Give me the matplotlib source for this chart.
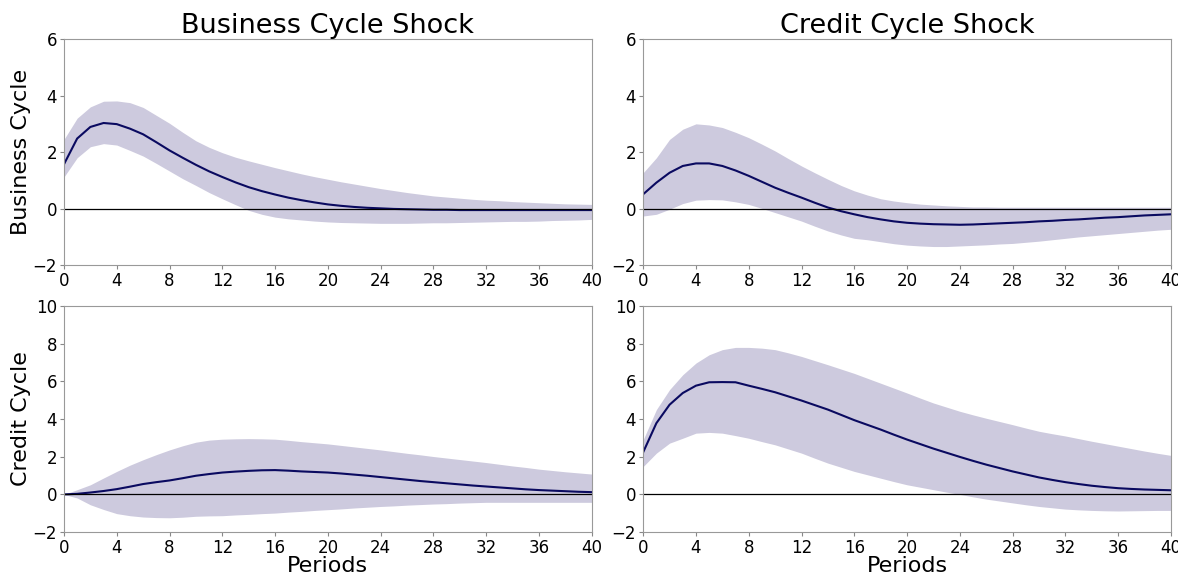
import numpy as np
import matplotlib
matplotlib.use("Agg")
import matplotlib.pyplot as plt

periods = np.arange(41)

# business cycle shock -> business cycle
bc_bc_med = [1.57, 2.48, 2.89, 3.03, 2.99, 2.83, 2.63, 2.35, 2.06, 1.80, 1.55, 1.32, 1.12, 0.93, 0.76,
             0.62, 0.50, 0.39, 0.30, 0.22, 0.15, 0.10, 0.06, 0.03, 0.01, -0.01, -0.02, -0.03, -0.04,
             -0.04, -0.05, -0.05, -0.05, -0.05, -0.05, -0.05, -0.05, -0.05, -0.05, -0.05, -0.05]
bc_bc_hi = [2.45, 3.20, 3.60, 3.80, 3.81, 3.75, 3.58, 3.30, 3.02, 2.70, 2.40, 2.17, 1.98, 1.82, 1.69,
            1.57, 1.45, 1.34, 1.23, 1.13, 1.04, 0.95, 0.87, 0.79, 0.71, 0.64, 0.57, 0.51, 0.45, 0.41,
            0.37, 0.33, 0.30, 0.28, 0.25, 0.23, 0.21, 0.19, 0.17, 0.16, 0.15]
bc_bc_lo = [1.12, 1.80, 2.19, 2.30, 2.25, 2.06, 1.86, 1.60, 1.33, 1.06, 0.82, 0.57, 0.35, 0.14, -0.06,
            -0.20, -0.30, -0.36, -0.40, -0.44, -0.47, -0.49, -0.50, -0.51, -0.52, -0.52, -0.52, -0.51,
            -0.50, -0.50, -0.49, -0.48, -0.47, -0.46, -0.45, -0.45, -0.44, -0.42, -0.41, -0.40, -0.38]

# credit cycle shock -> business cycle
cc_bc_med = [0.51, 0.92, 1.27, 1.51, 1.60, 1.60, 1.51, 1.35, 1.16, 0.95, 0.74, 0.56, 0.39, 0.21, 0.04,
             -0.09, -0.20, -0.30, -0.38, -0.45, -0.50, -0.53, -0.55, -0.56, -0.57, -0.56, -0.54, -0.52,
             -0.50, -0.48, -0.45, -0.43, -0.40, -0.38, -0.35, -0.32, -0.30, -0.27, -0.24, -0.22, -0.20]
cc_bc_hi = [1.27, 1.80, 2.45, 2.81, 3.00, 2.96, 2.87, 2.70, 2.51, 2.28, 2.04, 1.77, 1.51, 1.27, 1.04,
            0.82, 0.63, 0.48, 0.35, 0.27, 0.21, 0.16, 0.13, 0.10, 0.08, 0.06, 0.06, 0.05, 0.05, 0.05,
            0.05, 0.05, 0.05, 0.05, 0.05, 0.05, 0.05, 0.05, 0.05, 0.05, 0.05]
cc_bc_lo = [-0.26, -0.20, -0.02, 0.18, 0.30, 0.32, 0.31, 0.24, 0.15, 0.01, -0.14, -0.29, -0.44, -0.62,
            -0.79, -0.93, -1.05, -1.10, -1.17, -1.24, -1.29, -1.32, -1.34, -1.34, -1.32, -1.30, -1.28,
            -1.25, -1.23, -1.19, -1.15, -1.10, -1.05, -1.00, -0.96, -0.92, -0.88, -0.84, -0.80, -0.76, -0.73]

# business cycle shock -> credit cycle
bc_cc_med = [0.00, 0.03, 0.10, 0.18, 0.28, 0.41, 0.55, 0.65, 0.74, 0.86, 0.99, 1.08, 1.16, 1.21, 1.25,
             1.28, 1.29, 1.26, 1.22, 1.19, 1.16, 1.11, 1.05, 0.99, 0.92, 0.85, 0.78, 0.71, 0.65, 0.59,
             0.53, 0.47, 0.42, 0.37, 0.32, 0.27, 0.23, 0.20, 0.17, 0.14, 0.12]
bc_cc_hi = [0.00, 0.25, 0.51, 0.87, 1.22, 1.55, 1.84, 2.11, 2.36, 2.58, 2.77, 2.88, 2.93, 2.95, 2.96,
            2.95, 2.93, 2.87, 2.80, 2.74, 2.68, 2.60, 2.52, 2.44, 2.36, 2.27, 2.18, 2.10, 2.01, 1.93,
            1.85, 1.77, 1.69, 1.60, 1.51, 1.43, 1.34, 1.27, 1.20, 1.14, 1.08]
bc_cc_lo = [0.00, -0.19, -0.55, -0.80, -1.02, -1.13, -1.20, -1.23, -1.24, -1.21, -1.16, -1.14, -1.13,
            -1.09, -1.06, -1.02, -0.99, -0.94, -0.90, -0.85, -0.81, -0.77, -0.72, -0.68, -0.64, -0.61,
            -0.57, -0.54, -0.51, -0.49, -0.46, -0.44, -0.42, -0.42, -0.42, -0.42, -0.42, -0.42, -0.42,
            -0.42, -0.42]

# credit cycle shock -> credit cycle
cc_cc_med = [2.24, 3.78, 4.76, 5.38, 5.77, 5.95, 5.96, 5.95, 5.77, 5.60, 5.42, 5.20, 4.98, 4.74, 4.50,
             4.22, 3.94, 3.69, 3.44, 3.17, 2.91, 2.67, 2.43, 2.21, 1.99, 1.78, 1.58, 1.40, 1.22, 1.06,
             0.90, 0.77, 0.65, 0.55, 0.46, 0.39, 0.33, 0.29, 0.26, 0.24, 0.22]
cc_cc_hi = [2.90, 4.50, 5.56, 6.35, 6.97, 7.41, 7.68, 7.80, 7.80, 7.76, 7.68, 7.51, 7.32, 7.10, 6.88,
            6.65, 6.42, 6.16, 5.90, 5.64, 5.38, 5.11, 4.85, 4.63, 4.41, 4.22, 4.04, 3.87, 3.70, 3.52,
            3.35, 3.22, 3.10, 2.96, 2.82, 2.69, 2.56, 2.43, 2.30, 2.18, 2.07]
cc_cc_lo = [1.48, 2.19, 2.72, 2.98, 3.25, 3.29, 3.25, 3.12, 2.98, 2.80, 2.63, 2.41, 2.19, 1.92, 1.66,
            1.44, 1.22, 1.04, 0.86, 0.68, 0.51, 0.38, 0.25, 0.12, 0.00, -0.13, -0.25, -0.35, -0.45,
            -0.55, -0.64, -0.71, -0.78, -0.82, -0.85, -0.87, -0.88, -0.87, -0.86, -0.85, -0.85]

col_titles = ["Business Cycle Shock", "Credit Cycle Shock"]
row_labels = ["Business Cycle", "Credit Cycle"]

panels = [[(bc_bc_med, bc_bc_lo, bc_bc_hi), (cc_bc_med, cc_bc_lo, cc_bc_hi)],
          [(bc_cc_med, bc_cc_lo, bc_cc_hi), (cc_cc_med, cc_cc_lo, cc_cc_hi)]]
ylims = [(-2, 6), (-2, 10)]

fig = plt.figure(figsize=(11.78, 5.74), dpi=100)

lefts = [0.0543, 0.546]
bottoms = [0.538, 0.073]
w = 0.448
h = 0.394

for r in range(2):
    for c in range(2):
        ax = fig.add_axes([lefts[c], bottoms[r], w, h])
        med, lo, hi = panels[r][c]
        ax.fill_between(periods, lo, hi, color="#cdcade", linewidth=0)
        ax.plot(periods, med, color="#0a0a60", linewidth=1.5)
        ax.axhline(0, color="black", linewidth=0.9)
        ax.set_xlim(0, 40)
        ax.set_ylim(*ylims[r])
        ax.set_xticks(range(0, 41, 4))
        ax.set_yticks(range(ylims[r][0], ylims[r][1] + 1, 2))
        ax.tick_params(labelsize=12, length=3, pad=2, color="#888888")
        for sp in ax.spines.values():
            sp.set_color("#999999")
        if r == 0:
            ax.set_title(col_titles[c], fontsize=19.5, pad=3)
        else:
            ax.set_xlabel("Periods", fontsize=16, labelpad=-1)
        if c == 0:
            ax.set_ylabel(row_labels[r], fontsize=16, labelpad=1)

fig.savefig("out.png", dpi=100)
